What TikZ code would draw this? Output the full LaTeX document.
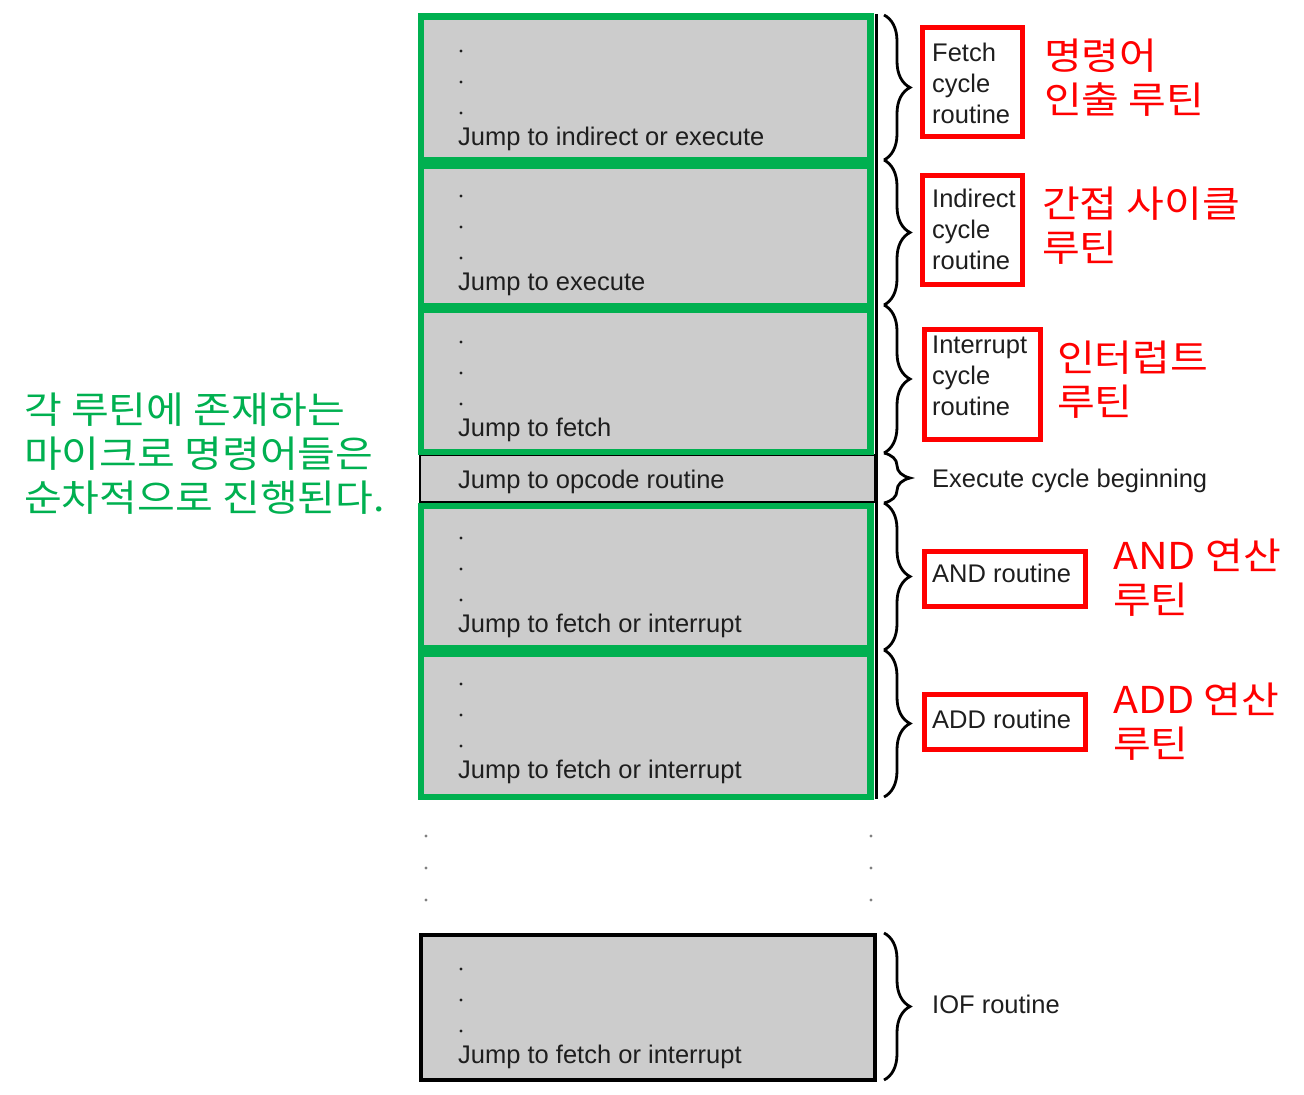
\documentclass[tikz,border=0pt]{standalone}
\usepackage{fontspec}
\setmainfont{Liberation Sans}
\newfontfamily\korfont[FakeStretch=1.11]{Noto Sans CJK KR}
\usetikzlibrary{decorations.pathreplacing}
\definecolor{grn}{HTML}{00B050}
\definecolor{boxfill}{HTML}{CCCCCC}
\definecolor{ink}{HTML}{1E1E1E}
\definecolor{rd}{HTML}{FF0000}
\begin{document}
\begin{tikzpicture}[x=1pt,y=-1pt,
  gbox/.style={rectangle, draw=grn, line width=6.5pt, fill=boxfill, inner sep=0pt},
  kbox/.style={rectangle, draw=black, line width=2.5pt, fill=boxfill, inner sep=0pt},
  kboxthick/.style={rectangle, draw=black, line width=4pt, fill=boxfill, inner sep=0pt},
  rbox/.style={rectangle, draw=rd, line width=4.5pt, inner sep=0pt},
  jtxt/.style={anchor=base west, inner sep=0pt, text=ink, font=\fontsize{25.5}{31}\selectfont},
  ltxt/.style={anchor=west, inner sep=0pt, text=ink, align=left, font=\fontsize{25.5}{31}\selectfont},
  rkor/.style={anchor=west, inner sep=0pt, text=rd, align=left, font=\korfont\fontsize{37}{44}\selectfont},
  gkor/.style={anchor=west, inner sep=0pt, text=grn, align=left, font=\korfont\fontsize{37}{44}\selectfont},
  brc/.style={decorate, decoration={brace, amplitude=26pt}, line width=2.8pt},
  dotm/.style={fill=ink, circle, inner sep=0pt, minimum size=3.2pt}
]
\useasboundingbox (0,0) rectangle (1304,1095);

% boxes
\node[kbox, minimum width=455pt, minimum height=47pt] (op) at (647.5,478.5) {};
\node[gbox, minimum width=449.5pt, minimum height=143.5pt] (b1) at (645.75,88.25) {};
\node[gbox, minimum width=449.5pt, minimum height=140.5pt] (b2) at (645.75,235.75) {};
\node[gbox, minimum width=449.5pt, minimum height=142.5pt] (b3) at (645.75,380.75) {};
\node[gbox, minimum width=449.5pt, minimum height=142pt] (b4) at (645.75,577) {};
\node[gbox, minimum width=449.5pt, minimum height=143pt] (b5) at (645.75,725.5) {};
\node[kboxthick, minimum width=454pt, minimum height=145pt] (iof) at (648,1007) {};

\coordinate (rt) at (876,14);
\coordinate (rb) at (876,799);
\draw[line width=3pt, black] (rt) -- (rb);

% dots inside boxes
\foreach \b in {145,290,436,632,778,1063}{
  \node[dotm] at (461,\b-94) {};
  \node[dotm] at (461,\b-63) {};
  \node[dotm] at (461,\b-32) {};
}
% dots between
\foreach \yy in {836,868,900}{
  \node[dotm, fill=gray] at (426,\yy) {};
  \node[dotm, fill=gray] at (871,\yy) {};
}

% box texts
\node[jtxt] (t1) at (458,145) {Jump to indirect or execute};
\node[jtxt] (t2) at (458,290) {Jump to execute};
\node[jtxt] (t3) at (458,436) {Jump to fetch};
\node[jtxt] (t4) at (458,488) {Jump to opcode routine};
\node[jtxt] (t5) at (458,632) {Jump to fetch or interrupt};
\node[jtxt] (t6) at (458,778) {Jump to fetch or interrupt};
\node[jtxt] (t7) at (458,1063) {Jump to fetch or interrupt};

% braces
\coordinate (c0) at (884,15);
\coordinate (c1) at (884,160);
\coordinate (c2) at (884,305);
\coordinate (c3) at (884,453);
\coordinate (c4) at (884,503);
\coordinate (c5) at (884,650);
\coordinate (c6) at (884,797);
\coordinate (c7) at (884,933);
\coordinate (c8) at (884,1080);
\draw[brc] (c0) -- (c1);
\draw[brc] (c1) -- (c2);
\draw[brc] (c2) -- (c3);
\draw[brc] (c3) -- (c4);
\draw[brc] (c4) -- (c5);
\draw[brc] (c5) -- (c6);
\draw[brc] (c7) -- (c8);

% red boxes
\node[rbox, minimum width=100pt, minimum height=109pt] (rf) at (972.5,82) {};
\node[rbox, minimum width=100pt, minimum height=109pt] (ri) at (972.5,230) {};
\node[rbox, minimum width=116pt, minimum height=110pt] (rn) at (982.5,384.5) {};
\node[rbox, minimum width=161pt, minimum height=55pt] (ra) at (1005,579) {};
\node[rbox, minimum width=161pt, minimum height=55pt] (rd2) at (1005,722) {};

\node[ltxt] (lf) at (932,83.7) {Fetch\\cycle\\routine};
\node[ltxt] (li) at (932,229.7) {Indirect\\cycle\\routine};
\node[ltxt] (ln) at (932,376) {Interrupt\\cycle\\routine};
\node[jtxt] (la) at (932,582) {AND routine};
\node[jtxt] (ld) at (932,728) {ADD routine};
\node[jtxt] (le) at (932,487) {Execute cycle beginning};
\node[jtxt] (lo) at (932,1013) {IOF routine};

% korean labels
\node[rkor] (kf) at (1044,78) {명령어\\인출 루틴};
\node[rkor] (ki) at (1042,226) {간접 사이클\\루틴};
\node[rkor] (kn) at (1057,380) {인터럽트\\루틴};
\node[rkor] (ka) at (1113,578) {AND 연산\\루틴};
\node[rkor] (kd) at (1113,722) {ADD 연산\\루틴};
\node[gkor] (kg) at (24,454) {각 루틴에 존재하는\\마이크로 명령어들은\\순차적으로 진행된다.};
\end{tikzpicture}
\end{document}
